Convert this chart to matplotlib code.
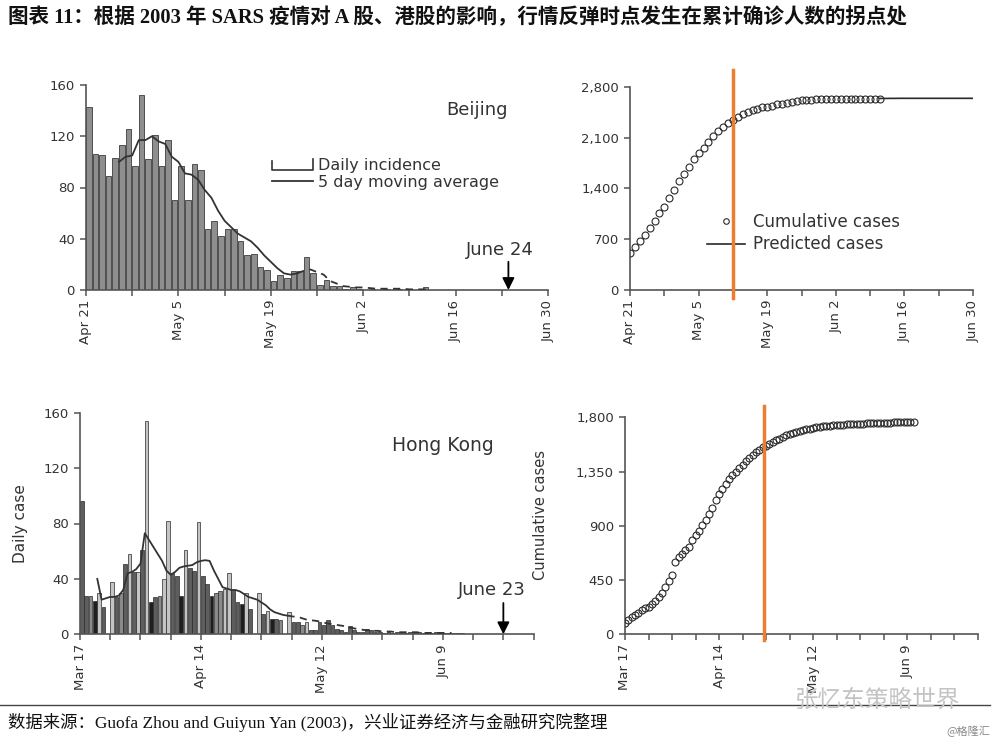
import matplotlib
matplotlib.use('Agg')
import matplotlib.pyplot as plt
from matplotlib.lines import Line2D
from matplotlib.patches import Patch
from matplotlib.legend_handler import HandlerBase
from matplotlib.ticker import MultipleLocator, FuncFormatter

# ---------------- data ----------------
bj_labels = ['Apr 21', 'May 5', 'May 19', 'Jun 2', 'Jun 16', 'Jun 30']
hk_labels = ['Mar 17', 'Apr 14', 'May 12', 'Jun 9']

# Beijing daily incidence, from Apr 21
bj_daily = [143, 106, 105, 89, 103, 113, 126, 97, 152, 102, 121, 97, 117, 70, 97, 70,
            98, 94, 48, 54, 42, 48, 48, 38, 27, 28, 18, 16, 7, 12, 9, 15, 15, 26, 13, 4,
            8, 3, 3, 1, 2, 1, 0, 1, 0, 1, 0, 1, 0, 0, 0, 2, 0]
# Beijing 5-day moving average, from Apr 26
bj_ma_start = 5
bj_ma = [100, 104, 105, 117, 117, 120, 116, 114, 104, 100, 91, 90, 86, 78, 72, 62,
         54, 49, 44, 41, 38, 33, 27, 22, 17, 13, 12, 13, 15, 16, 14, 12, 7, 5, 3,
         2.5, 2, 2, 1.5, 1, 1, 1, 1, 1, 0.5, 0.5, 0.5, 0.5]
bj_ma_dash_from = 32
# Beijing cumulative cases, from Apr 21
bj_cum = [505, 590, 680, 760, 850, 950, 1060, 1150, 1270, 1380, 1500, 1600, 1700, 1800,
          1880, 1960, 2040, 2120, 2190, 2250, 2300, 2340, 2380, 2420, 2450, 2475, 2495,
          2515, 2525, 2540, 2555, 2565, 2580, 2595, 2605, 2612, 2618, 2622, 2625, 2627,
          2628, 2629, 2629, 2630, 2630, 2631, 2631, 2632, 2632, 2632, 2633, 2633]
# Beijing predicted cases, from Jun 11
bj_pred_start = 51
bj_pred = [2638, 2638, 2639, 2639, 2640, 2640, 2640, 2640, 2640, 2640, 2640, 2640,
           2640, 2640, 2640, 2640, 2640, 2640, 2640, 2640]
bj_turn = 21      # May 12
bj_end = 64       # June 24

# Hong Kong daily cases, from Mar 17
hk_daily = [96, 28, 28, 24, 30, 20, 0, 38, 27, 30, 51, 58, 45, 45, 61, 154, 23, 27, 28,
            40, 82, 44, 42, 28, 61, 48, 46, 81, 42, 36, 28, 30, 31, 33, 44, 32, 23, 22,
            30, 18, 0, 30, 15, 17, 11, 11, 10, 0, 16, 9, 9, 7, 9, 3, 3, 9, 7, 10, 7, 4,
            3, 2, 6, 3, 2, 2, 4, 3, 2, 2, 1, 2, 1, 2, 1, 1, 2, 1, 2, 1, 1, 1, 2, 1, 1,
            1, 1, 1, 1]
# bar shading codes (style only): k black, d dark, m medium, l light
hk_shade = ('ddmkld-ldm' 'dldldlkdml' 'lddklddldd' 'kmmllddkld' '-ldlkdm-ld' 'dml')
# Hong Kong 5-day moving average, from Mar 21
hk_ma_start = 4
hk_ma = [40, 25, 26, 27, 27, 28, 32, 44, 45, 47, 51, 73, 68, 63, 58, 53, 46, 43, 45, 48,
         49, 49.5, 50, 52, 53, 53.5, 53, 46, 40, 34, 33, 32, 32, 31, 29, 27, 26, 25, 23,
         21, 18, 16, 15, 14, 13.5, 13, 12.5, 12, 11, 10, 10, 9.5, 9, 8, 7.5, 7, 6.5, 6,
         5, 4.5, 4, 3.5, 3, 3, 2.5, 2.5, 2, 2, 2, 1.5, 1.5, 1.5, 1.5, 1.5, 1.5, 1, 1, 1,
         1, 1, 1, 1, 1]
hk_ma_dash_from = 48
# Hong Kong cumulative cases, from Mar 17
hk_cum = [91, 115, 140, 160, 180, 200, 215, 230, 255, 280, 310, 345, 390, 440, 490, 600,
          640, 670, 700, 725, 780, 820, 860, 905, 950, 1000, 1050, 1110, 1165, 1205,
          1245, 1285, 1320, 1350, 1378, 1405, 1435, 1460, 1488, 1510, 1530, 1550, 1565,
          1582, 1597, 1610, 1622, 1635, 1650, 1660, 1670, 1678, 1688, 1695, 1700, 1705,
          1712, 1718, 1722, 1725, 1728, 1731, 1734, 1736, 1738, 1740, 1742, 1744, 1745,
          1746, 1747, 1748, 1749, 1750, 1751, 1752, 1753, 1754, 1755, 1756, 1757, 1758,
          1758, 1759, 1760, 1761, 1763]
hk_turn = 41.5
hk_end = 98       # June 23

title = '图表 11：根据 2003 年 SARS 疫情对 A 股、港股的影响，行情反弹时点发生在累计确诊人数的拐点处'
source = '数据来源：Guofa Zhou and Guiyun Yan (2003)，兴业证券经济与金融研究院整理'

# ---------------- style ----------------
W, H = 1000, 745
fig = plt.figure(figsize=(W / 100, H / 100), dpi=100)
fig.patch.set_facecolor('white')
AX_C = '#555555'
TXT_C = '#333333'
ORANGE = '#ED7D31'
shade_map = {'k': '#1e1e1e', 'd': '#5e5e5e', 'm': '#8a8a8a', 'l': '#c4c4c4', '-': '#8a8a8a'}


def px_axes(left, right, top, bottom):
    return fig.add_axes([left / W, 1 - bottom / H, (right - left) / W, (bottom - top) / H])


def style_axes(ax, ticks, labels, xmax):
    for s in ('top', 'right'):
        ax.spines[s].set_visible(False)
    for s in ('left', 'bottom'):
        ax.spines[s].set_color(AX_C)
        ax.spines[s].set_linewidth(1.2)
    ax.set_xlim(0, xmax)
    ax.set_xticks(ticks)
    ax.set_xticklabels(labels, rotation=90, fontsize=9.5, color=TXT_C)
    ax.xaxis.set_minor_locator(MultipleLocator(7))
    ax.tick_params(axis='both', which='both', direction='out', length=4, width=1.1,
                   color=AX_C, labelcolor=TXT_C)
    ax.tick_params(axis='y', labelsize=9.5, pad=4)
    ax.tick_params(axis='x', pad=3)
    ax.patch.set_alpha(0)


comma = FuncFormatter(lambda v, p: f'{int(v):,}')


class BracketHandler(HandlerBase):
    def create_artists(self, legend, orig_handle, xdescent, ydescent, width, height,
                       fontsize, trans):
        x0, y0 = -xdescent, -ydescent
        ln = Line2D([x0, x0, x0 + width, x0 + width],
                    [y0 + height * 0.75, y0, y0, y0 + height * 0.95],
                    color='#333333', lw=1.2, transform=trans)
        return [ln]


arrow_kw = dict(arrowstyle='-|>', color='black', lw=1.3, mutation_scale=18,
                shrinkA=0, shrinkB=0)

# ---------------- Beijing daily ----------------
ax1 = px_axes(86, 548, 85, 290)
bj_days = list(range(len(bj_daily)))
ax1.bar(bj_days, bj_daily, width=0.85, align='edge', color='#8e8e8e',
        edgecolor='#3c3c3c', linewidth=0.6, zorder=2)
ma_days = [bj_ma_start + i for i in range(len(bj_ma))]
k = bj_ma_dash_from - bj_ma_start
ax1.plot(ma_days[:k + 1], bj_ma[:k + 1], color='#333333', lw=1.3, zorder=3)
ax1.plot(ma_days[k:], bj_ma[k:], color='#333333', lw=1.3, ls=(0, (4, 3)), zorder=3)
ax1.set_ylim(0, 160)
ax1.set_yticks([0, 40, 80, 120, 160])
style_axes(ax1, [0, 14, 28, 42, 56, 70], bj_labels, 70)
ax1.text(0.846, 0.878, 'Beijing', transform=ax1.transAxes, ha='center', va='center',
         fontsize=13, color=TXT_C)
bracket_proxy = Patch()
ma_proxy = Line2D([], [], color='#333333', lw=1.3)
ax1.legend([bracket_proxy, ma_proxy], ['Daily incidence', '5 day moving average'],
           handler_map={bracket_proxy: BracketHandler()}, loc='upper left',
           bbox_to_anchor=(0.4026, 0.645), frameon=False, fontsize=11.5,
           handlelength=2.56, handletextpad=0.3, labelspacing=0.12, borderpad=0,
           borderaxespad=0, labelcolor=TXT_C)
ax1.annotate('', xy=(bj_end, 0), xytext=(bj_end, 22), arrowprops=arrow_kw)
ax1.text(bj_end - 1.3, 31, 'June 24', ha='center', va='center', fontsize=13, color=TXT_C)

# ---------------- Beijing cumulative ----------------
ax2 = px_axes(630, 973, 86.7, 290)
ax2.plot(range(len(bj_cum)), bj_cum, ls='none', marker='o', ms=5, mfc='none',
         mec='#2a2a2a', mew=0.8, zorder=3, label='Cumulative cases')
pred_days = [bj_pred_start + i for i in range(len(bj_pred))]
ax2.plot(pred_days, bj_pred, color='#2a2a2a', lw=1.2, zorder=3, label='Predicted cases')
ax2.set_ylim(0, 2800)
ax2.set_yticks([0, 700, 1400, 2100, 2800])
ax2.yaxis.set_major_formatter(comma)
style_axes(ax2, [0, 14, 28, 42, 56, 70], bj_labels, 70)
ax2.legend(loc='upper left', bbox_to_anchor=(0.2245, 0.38), frameon=False, fontsize=12,
           handlelength=2.28, handletextpad=0.45, labelspacing=0.28, borderpad=0,
           borderaxespad=0, numpoints=1, markerscale=0.8, labelcolor=TXT_C)
ax2.axvline(bj_turn, ymin=-0.04, ymax=1.08, color=ORANGE, lw=2.5, clip_on=False, zorder=6)

# ---------------- Hong Kong daily ----------------
ax3 = px_axes(80, 533.6, 412.7, 634.3)
hk_days = list(range(len(hk_daily)))
hk_colors = [shade_map[hk_shade[i]] if i < len(hk_shade) else shade_map['d']
             for i in hk_days]
ax3.bar(hk_days, hk_daily, width=0.85, align='edge', color=hk_colors,
        edgecolor='#2a2a2a', linewidth=0.5, zorder=2)
hma_days = [hk_ma_start + i for i in range(len(hk_ma))]
k = hk_ma_dash_from - hk_ma_start
ax3.plot(hma_days[:k + 1], hk_ma[:k + 1], color='#333333', lw=1.3, zorder=3)
ax3.plot(hma_days[k:], hk_ma[k:], color='#333333', lw=1.3, ls=(0, (4, 3)), zorder=3)
ax3.set_ylim(0, 160)
ax3.set_yticks([0, 40, 80, 120, 160])
style_axes(ax3, [0, 28, 56, 84], hk_labels, 105)
ax3.set_ylabel('Daily case', fontsize=11, color=TXT_C)
ax3.yaxis.set_label_coords(-0.115, 0.5)
ax3.text(0.80, 0.85, 'Hong Kong', transform=ax3.transAxes, ha='center', va='center',
         fontsize=13.5, color=TXT_C)
ax3.annotate('', xy=(hk_end, 0), xytext=(hk_end, 22.6), arrowprops=arrow_kw)
ax3.text(hk_end - 2.6, 32, 'June 23', ha='center', va='center', fontsize=13, color=TXT_C)

# ---------------- Hong Kong cumulative ----------------
ax4 = px_axes(625, 977.5, 417.3, 634.3)
ax4.plot(range(len(hk_cum)), hk_cum, ls='none', marker='o', ms=5, mfc='none',
         mec='#2a2a2a', mew=0.8, zorder=3)
ax4.set_ylim(0, 1800)
ax4.set_yticks([0, 450, 900, 1350, 1800])
ax4.yaxis.set_major_formatter(comma)
style_axes(ax4, [0, 28, 56, 84], hk_labels, 105)
ax4.set_ylabel('Cumulative cases', fontsize=10.5, color=TXT_C)
ax4.yaxis.set_label_coords(-0.218, 0.55)
ax4.axvline(hk_turn, ymin=-0.026, ymax=1.052, color=ORANGE, lw=2.5, clip_on=False, zorder=6)

# ---------------- page text ----------------
cjk = ['Liberation Serif', 'Noto Sans CJK SC', 'DejaVu Sans']
fig.text(8 / W, 1 - 18 / H, title, ha='left', va='center', fontsize=14.8,
         fontweight='bold', family=cjk, color='#111111')
fig.add_artist(Line2D([0, 0.99], [1 - 705 / H, 1 - 705 / H], color='#444444', lw=1.0))
fig.text(8 / W, 1 - 722 / H, source, ha='left', va='center', fontsize=12.5,
         family=cjk, color='#111111')
fig.text(795 / W, 1 - 700 / H, '张忆东策略世界', ha='left', va='center', fontsize=17,
         family=['Noto Sans CJK SC'], color='#c4c4c4')
fig.text(990 / W, 1 - 731 / H, '@格隆汇', ha='right', va='center', fontsize=8,
         family=['Noto Sans CJK SC'], color='#888888')

fig.savefig('out.png', dpi=100, facecolor='white')
